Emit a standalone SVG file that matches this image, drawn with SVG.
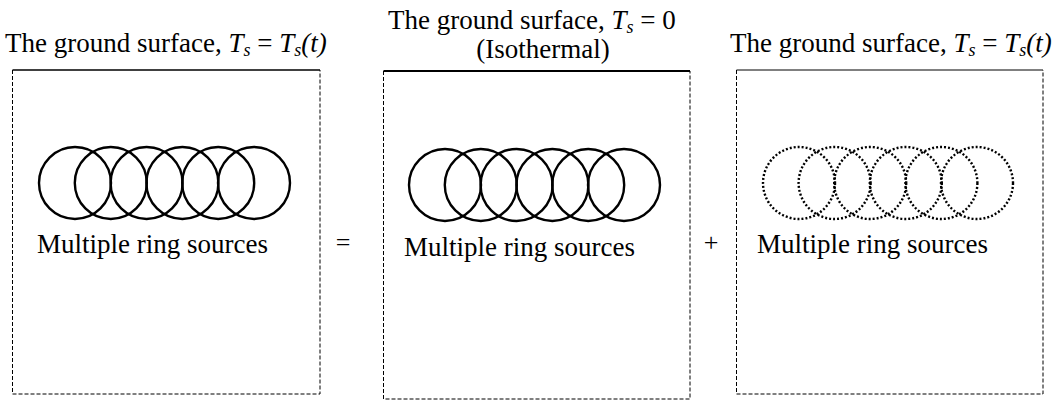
<svg xmlns="http://www.w3.org/2000/svg" width="1054" height="401" viewBox="0 0 1054 401">
<style>
text{font-family:"Liberation Serif","Times New Roman",serif;fill:#000}
.t{font-size:27px}
.lbl{font-size:27px}
.op{font-size:26px}
.it{font-style:italic}
.side{fill:none;stroke:#000;stroke-width:1;stroke-dasharray:4 2}
.ring{fill:none;stroke:#000;stroke-width:2.4}
.dring{fill:none;stroke:#000;stroke-width:2.4;stroke-dasharray:2 2}
</style>
<rect width="1054" height="401" fill="#fff"/>
<g id="panel1">
<line x1="12.5" y1="70" x2="320" y2="70" stroke="#000" stroke-width="1.5"/>
<path class="side" d="M12.5 70 V394 H320 V70"/>
<text class="t" x="5" y="52">The ground surface, <tspan class="it">T</tspan><tspan class="it" font-size="18" dy="4">s</tspan><tspan dy="-4"> = </tspan><tspan class="it">T</tspan><tspan class="it" font-size="18" dy="4">s</tspan><tspan class="it" dy="-4">(t)</tspan></text>
<circle class="ring" cx="75" cy="183" r="36"/>
<circle class="ring" cx="110.8" cy="183" r="36"/>
<circle class="ring" cx="146.6" cy="183" r="36"/>
<circle class="ring" cx="182.4" cy="183" r="36"/>
<circle class="ring" cx="218.2" cy="183" r="36"/>
<circle class="ring" cx="254" cy="183" r="36"/>
<text class="lbl" x="37" y="253">Multiple ring sources</text>
</g>
<g id="panel2">
<line x1="383.5" y1="71" x2="690" y2="71" stroke="#000" stroke-width="2.2"/>
<path class="side" d="M383.5 71 V399 H690 V71"/>
<text class="t" x="388" y="29">The ground surface, <tspan class="it">T</tspan><tspan class="it" font-size="18" dy="4">s</tspan><tspan dy="-4"> = 0</tspan></text>
<text class="t" x="543" y="58" text-anchor="middle">(Isothermal)</text>
<circle class="ring" cx="445" cy="185" r="36"/>
<circle class="ring" cx="480.8" cy="185" r="36"/>
<circle class="ring" cx="516.6" cy="185" r="36"/>
<circle class="ring" cx="552.4" cy="185" r="36"/>
<circle class="ring" cx="588.2" cy="185" r="36"/>
<circle class="ring" cx="624" cy="185" r="36"/>
<text class="lbl" x="404" y="256">Multiple ring sources</text>
</g>
<g id="panel3">
<line x1="736.5" y1="70" x2="1043" y2="70" stroke="#000" stroke-width="1"/>
<path class="side" d="M736.5 70 V394 H1043 V70"/>
<text class="t" x="730" y="52">The ground surface, <tspan class="it">T</tspan><tspan class="it" font-size="18" dy="4">s</tspan><tspan dy="-4"> = </tspan><tspan class="it">T</tspan><tspan class="it" font-size="18" dy="4">s</tspan><tspan class="it" dy="-4">(t)</tspan></text>
<circle class="dring" cx="799" cy="183" r="36"/>
<circle class="dring" cx="834.6" cy="183" r="36"/>
<circle class="dring" cx="870.2" cy="183" r="36"/>
<circle class="dring" cx="905.8" cy="183" r="36"/>
<circle class="dring" cx="941.4" cy="183" r="36"/>
<circle class="dring" cx="977" cy="183" r="36"/>
<text class="lbl" x="757" y="253">Multiple ring sources</text>
</g>
<g id="operators">
<text class="op" x="343" y="251" text-anchor="middle">=</text>
<text class="op" x="711" y="251" text-anchor="middle">+</text>
</g>
</svg>
